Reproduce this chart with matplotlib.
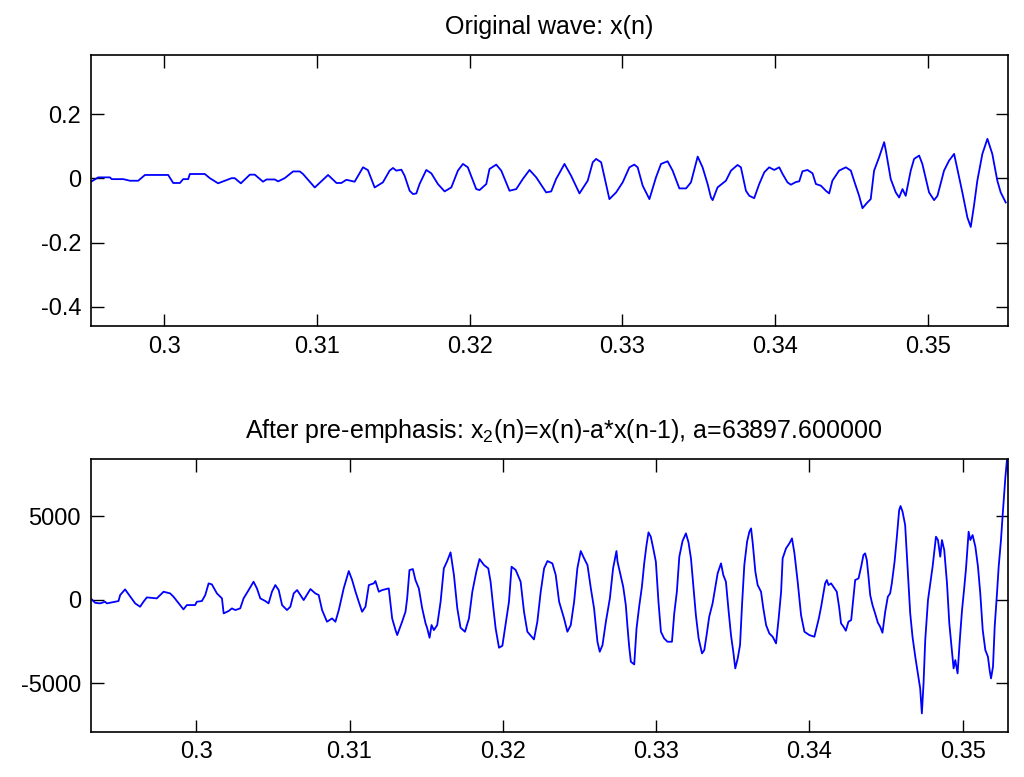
import matplotlib
matplotlib.use("Agg")
import matplotlib.pyplot as plt
from matplotlib.ticker import FuncFormatter

# original wave x(n)
t_top = [0.29525, 0.29568, 0.29645, 0.29656, 0.29732, 0.29776, 0.2983, 0.29874, 0.30026, 0.30059,
         0.30103, 0.30124, 0.30157, 0.30168, 0.30266, 0.30299, 0.30353, 0.30441, 0.30462, 0.30502,
         0.30561, 0.30593, 0.30647, 0.3067, 0.30724, 0.30746, 0.30789, 0.30844, 0.30888, 0.30909,
         0.30986, 0.31073, 0.31128, 0.3116, 0.31193, 0.31247, 0.31302, 0.31334, 0.31378, 0.31432,
         0.31476, 0.31498, 0.3152, 0.31553, 0.31574, 0.31607, 0.31629, 0.31651, 0.31672, 0.31716,
         0.31749, 0.31792, 0.31836, 0.3188, 0.31923, 0.31956, 0.31988, 0.32043, 0.32065, 0.32109,
         0.3213, 0.32174, 0.32207, 0.32261, 0.32305, 0.32348, 0.32392, 0.32436, 0.32501, 0.32534,
         0.32566, 0.32621, 0.32664, 0.32719, 0.32773, 0.32806, 0.32828, 0.32861, 0.32915, 0.32959,
         0.33002, 0.33046, 0.33078, 0.331, 0.33133, 0.33177, 0.3322, 0.33253, 0.33296, 0.33329,
         0.33373, 0.33417, 0.33449, 0.33493,
         0.33525, 0.33558, 0.3358, 0.33591, 0.33623, 0.33656, 0.33678, 0.33711, 0.33754, 0.33776,
         0.33809, 0.33831, 0.33863, 0.33896, 0.33929, 0.33961, 0.33994, 0.34027, 0.34049, 0.34081,
         0.34103, 0.34136, 0.34158, 0.34179, 0.34212, 0.34245, 0.34267, 0.343, 0.34332, 0.34354,
         0.34375, 0.34419, 0.34463, 0.34496, 0.34517, 0.3455, 0.34572, 0.34604, 0.34626, 0.34648,
         0.34681, 0.34714, 0.34725, 0.34757, 0.3479, 0.34812, 0.34834, 0.34855, 0.34888, 0.3491,
         0.34943, 0.34964, 0.35008, 0.35041, 0.35063, 0.35106, 0.35139, 0.35172, 0.35193, 0.35226,
         0.35259, 0.35281, 0.35302, 0.35324, 0.35357, 0.3539, 0.35422, 0.35455, 0.35477, 0.3551]
x_top = [-0.009, 0.0035, 0.0035, -0.002, -0.002, -0.007, -0.007, 0.011, 0.011, -0.014,
         -0.014, -0.002, -0.002, 0.014, 0.014, 0.001, -0.015, 0.001, 0.001, -0.015,
         0.012, 0.012, -0.010, -0.003, -0.003, -0.009, 0.001, 0.022, 0.022, 0.014,
         -0.028, 0.011, -0.014, -0.014, -0.004, -0.010, 0.035, 0.026, -0.028, -0.012,
         0.0245, 0.0328, 0.0245, 0.0275, 0.0088, -0.0382, -0.0486, -0.0465, -0.0172, 0.0266,
         0.0161, -0.0172, -0.0403, -0.0278, 0.0245, 0.0454, 0.0349, -0.0330, -0.0361, -0.0172,
         0.0297, 0.0433, 0.0245, -0.0382, -0.0330, -0.0017, 0.0266, 0.0035, -0.0434, -0.0403,
         -0.0017, 0.0454, 0.0088, -0.0465, -0.0069, 0.0506, 0.061, 0.0506, -0.0643, -0.0434,
         -0.012, 0.0349, 0.0433, 0.0349, -0.0225, -0.0643, 0.0035, 0.0454, 0.0537, 0.0245,
         -0.0309, -0.0309, -0.012, 0.0683,
         0.0349, -0.0172, -0.0592, -0.0675, -0.0278, -0.0152, -0.0069, 0.0245, 0.0422, 0.0349,
         -0.0382, -0.054, -0.0613, -0.0172, 0.0193, 0.0349, 0.0266, 0.0349, 0.014, -0.012,
         -0.0194, -0.011, -0.0089, 0.0224, 0.0266, 0.0161, -0.0172, -0.0225, -0.0382, -0.0465,
         -0.0069, 0.0245, 0.0349, 0.0245, -0.0069, -0.054, -0.0926, -0.0748, -0.0643, 0.0245,
         0.0663, 0.1133, 0.0871, -0.0017, -0.0434, -0.0592, -0.033, -0.054, 0.0245, 0.061,
         0.0715, 0.0454, -0.0434, -0.0675, -0.054, 0.0245, 0.0558, 0.0767, 0.0297, -0.0434,
         -0.1218, -0.1511, -0.0853, -0.0069, 0.0767, 0.1237, 0.0767, -0.0069, -0.0434, -0.0748]

# pre-emphasised wave x2(n)
t_bot = [0.29319, 0.2934, 0.29373, 0.29406, 0.29417, 0.29493, 0.29504, 0.29536, 0.29558, 0.29602,
         0.29634, 0.29656, 0.29678, 0.29743, 0.29787, 0.2983, 0.29852, 0.29895, 0.29917, 0.29939,
         0.29961, 0.29993, 0.30004, 0.30037, 0.30059, 0.30081, 0.30102, 0.30135, 0.30168, 0.30179,
         0.30211, 0.30233, 0.30255, 0.30287, 0.30309, 0.30342, 0.30374, 0.30396, 0.30418, 0.30451,
         0.30472, 0.30494, 0.30516, 0.30538, 0.3056, 0.30592, 0.30614, 0.30636, 0.30658, 0.30701,
         0.30745, 0.30777, 0.30799, 0.30821, 0.30853, 0.30886, 0.30908, 0.3093, 0.30962, 0.30995,
         0.31017, 0.31039, 0.3106, 0.31082, 0.31104, 0.31126, 0.31158, 0.31169, 0.31191, 0.31213,
         0.31256, 0.31278, 0.313, 0.31311, 0.31343, 0.31365,
         0.31376, 0.31391, 0.31413, 0.3143, 0.31452, 0.31474, 0.31496, 0.31507, 0.31522, 0.31535,
         0.3155, 0.31572, 0.31594, 0.31615, 0.31637, 0.31659, 0.31681, 0.31703, 0.31724, 0.31753,
         0.31779, 0.31801, 0.31827, 0.31848, 0.31877, 0.31905, 0.3192, 0.31936, 0.31953, 0.31975,
         0.31997, 0.32014, 0.3204, 0.32057, 0.32084, 0.32116, 0.32138, 0.3216, 0.32188, 0.32203,
         0.32225, 0.32247, 0.32269, 0.32291, 0.32323, 0.32345, 0.32367, 0.32399, 0.32421, 0.32443,
         0.32465, 0.32486, 0.32508, 0.3253, 0.32552, 0.32574, 0.32595, 0.32617, 0.32632, 0.3265,
         0.32672, 0.32698, 0.32719, 0.32741,
         0.32748, 0.32763, 0.32785, 0.32802, 0.32813, 0.32824, 0.32835, 0.32857, 0.32872, 0.32889,
         0.32907, 0.32922, 0.32937, 0.3295, 0.32965, 0.32981, 0.32998, 0.33015, 0.33031, 0.33052,
         0.33074, 0.33103, 0.33118, 0.33135, 0.33151, 0.33172, 0.33194, 0.33211, 0.33227, 0.33242,
         0.33259, 0.33277, 0.33299, 0.33314, 0.33329, 0.33346, 0.33368, 0.33386, 0.33401, 0.33423,
         0.33438, 0.33455, 0.33473, 0.33488, 0.33503, 0.33516, 0.33532, 0.33547, 0.3356, 0.33575,
         0.33593, 0.33608, 0.33619, 0.3363, 0.33647, 0.33662, 0.33684, 0.33699, 0.33717, 0.33738,
         0.3376, 0.33782, 0.33799, 0.33815, 0.33825, 0.33847, 0.33869, 0.33886, 0.33902, 0.33923,
         0.33945, 0.33967, 0.33999, 0.34032, 0.34061, 0.34076,
         0.34102, 0.34113, 0.34124, 0.34141, 0.34163, 0.34178, 0.34193, 0.34206, 0.34222, 0.34237,
         0.34254, 0.34272, 0.34287, 0.34298, 0.3432, 0.34337, 0.34352, 0.34363, 0.34374, 0.34385,
         0.34396, 0.34411, 0.34428, 0.34446, 0.34461, 0.34476, 0.34494, 0.34511, 0.34526, 0.34537,
         0.34555, 0.3457, 0.34585, 0.34594, 0.34607, 0.34624, 0.34642, 0.34657, 0.34672, 0.3469,
         0.34707, 0.34722, 0.34733, 0.34744, 0.34755, 0.34773, 0.34788, 0.34803, 0.34816, 0.34825,
         0.34838, 0.34853, 0.34864, 0.34879, 0.34897, 0.34912, 0.34929, 0.3494, 0.34951, 0.34966,
         0.34982, 0.34995, 0.35008, 0.35021, 0.35038, 0.35049, 0.35064, 0.35082, 0.35099, 0.35114,
         0.3513, 0.35147, 0.35164, 0.35175, 0.35184, 0.35197, 0.35208, 0.35223, 0.35234, 0.35249,
         0.3526, 0.35278, 0.35288, 0.35299, 0.3531]
x_bot = [16, -184, -224, -124, -224, -84, 276, 616, 336, -224,
         -424, -124, 136, 76, 476, 376, 176, -324, -584, -324,
         -324, -324, -124, -84, 276, 976, 916, 376, 76, -824,
         -684, -524, -624, -524, 76, 576, 1076, 676, 76, -84,
         -224, 476, 876, 576, -324, -624, -424, 376, 576, -24,
         636, 376, 276, -624, -1324, -1124, -1324, -624, 676, 1716,
         1176, 476, -124, -724, -424, 876, 976, 1116, 476, 576,
         676, -1124, -1824, -2124, -1324, -724,
         76, 1776, 1836, 1176, 676, -524, -1424, -1724, -2284, -1524,
         -1824, -1524, -124, 1876, 2316, 2836, 1476, -524, -1684, -1924,
         -1124, 476, 1676, 2436, 2076, 1876, 1076, -324, -1724, -2884,
         -2764, -1724, -124, 1976, 1776, 1076, -724, -1924, -2224, -2384,
         -1324, 476, 1876, 2316, 2176, 1476, -124, -1124, -1924, -1524,
         -124, 1876, 2916, 2476, 2076, 676, -524, -2524, -3124, -2724,
         -1324, 76, 1876, 2916,
         2276, 1676, 776, -324, -1624, -2824, -3724, -3884, -1724, -424,
         776, 2176, 3276, 4036, 3776, 3076, 2276, -124, -1924, -2324,
         -2524, -2524, -824, 476, 2576, 3516, 3976, 3436, 2476, 876,
         -924, -2324, -3224, -3024, -2124, -1024, -224, 776, 1576, 2176,
         1476, 1076, -724, -2124, -3124, -4124, -3524, -2724, -324, 2076,
         3476, 4076, 4276, 3376, 1676, 876, 476, -524, -1524, -2024,
         -2224, -2624, -1124, 476, 2476, 3076, 3376, 3676, 2776, 1076,
         -924, -1924, -2124, -2224, -1124, -424,
         976, 1176, 876, 976, 676, 476, -424, -1424, -1624, -1864,
         -1324, -1224, 176, 1176, 1276, 1976, 2676, 2776, 2376, 1376,
         276, -324, -824, -1384, -1624, -1984, -724, 176, 376, 976,
         2276, 3776, 5376, 5616, 5276, 4476, 1576, -824, -2224, -3424,
         -4424, -5324, -6824, -5024, -2424, -24, 976, 1976, 3076, 3776,
         3576, 2576, 3576, 2976, 976, -1424, -3024, -4124, -3624, -4424,
         -2224, -624, 576, 1876, 4076, 3576, 3876, 3176, 1976, 376,
         -1824, -3024, -3424, -4224, -4724, -4024, -1624, 376, 1976, 3576,
         5076, 7376, 8376, 7376, 7976]

title_top = "Original wave: x(n)"
title_bot = "After pre-emphasis: x$_2$(n)=x(n)-a*x(n-1), a=63897.600000"

plt.rcParams["font.family"] = ["Liberation Sans", "DejaVu Sans"]
plt.rcParams["mathtext.fontset"] = "custom"
plt.rcParams["mathtext.rm"] = "Liberation Sans"
plt.rcParams["mathtext.it"] = "Liberation Sans"

fig = plt.figure(figsize=(10.24, 7.77), dpi=100)
ax1 = fig.add_axes([0.0886, 0.5804, 0.8958, 0.3488])
ax2 = fig.add_axes([0.0886, 0.0583, 0.8958, 0.3506])

ax1.plot(t_top, x_top, color="#0000ff", lw=1.3)
ax2.plot(t_bot, x_bot, color="#0000ff", lw=1.3)

ax1.set_xlim(0.29519, 0.35525)
ax1.set_ylim(-0.46, 0.385)
ax1.set_yticks([-0.4, -0.2, 0, 0.2])
ax2.set_xlim(0.29312, 0.35295)
ax2.set_ylim(-7920, 8420)
ax2.set_yticks([-5000, 0, 5000])

fmt = FuncFormatter(lambda v, p: "%g" % round(v, 6))
for ax in (ax1, ax2):
    ax.set_xticks([0.3, 0.31, 0.32, 0.33, 0.34, 0.35])
    ax.xaxis.set_major_formatter(fmt)
    ax.yaxis.set_major_formatter(fmt)
    ax.tick_params(direction="in", top=True, right=True, length=9, width=1,
                   labelsize=17, pad=7, colors="black")
    for s in ax.spines.values():
        s.set_linewidth(1.2)

ax1.set_title(title_top, fontsize=18, pad=15)
# the lower title sits a little right of centre in the reference
ax2.set_title(title_bot, fontsize=18, pad=15, x=0.515)

fig.savefig("out.png", dpi=100)
